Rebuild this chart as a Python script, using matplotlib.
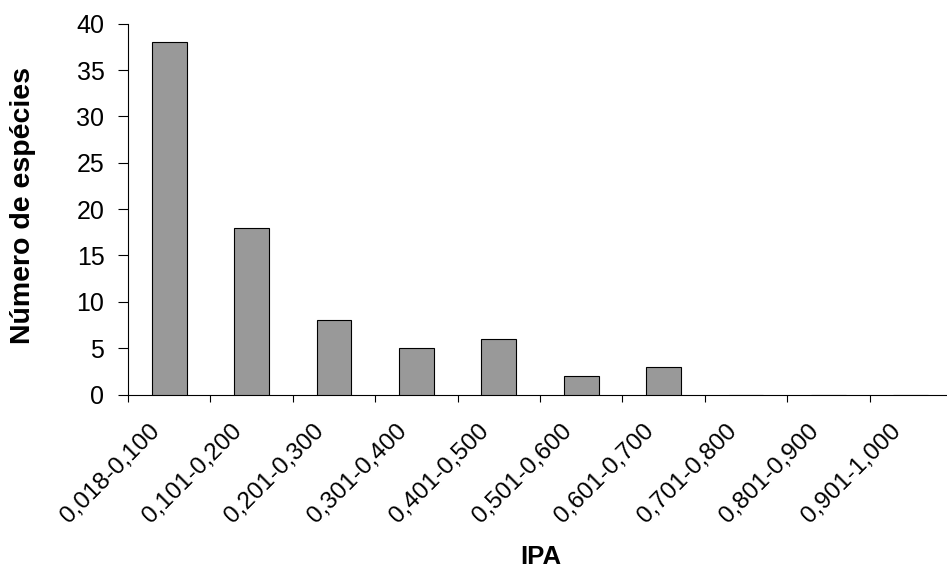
import matplotlib
matplotlib.use("Agg")
import matplotlib.pyplot as plt
from matplotlib.transforms import ScaledTranslation
import numpy as np

categories = ["0,018-0,100", "0,101-0,200", "0,201-0,300", "0,301-0,400", "0,401-0,500",
              "0,501-0,600", "0,601-0,700", "0,701-0,800", "0,801-0,900", "0,901-1,000"]
values = [38, 18, 8, 5, 6, 2, 3, 0, 0, 0]
y_ticks = [0, 5, 10, 15, 20, 25, 30, 35, 40]

plt.rcParams['font.family'] = ['Liberation Sans', 'DejaVu Sans']

fig = plt.figure(figsize=(9.47, 5.70), dpi=100)
ax = fig.add_axes([128/947, 1-394.5/570, 824/947, (394.5-23.7)/570])

x = np.arange(len(categories))
ax.bar(x, values, width=0.42, color='#999999', edgecolor='black', linewidth=0.8, zorder=3)

ax.set_xlim(-0.5, len(categories) - 0.5)
ax.set_ylim(0, 40)
ax.set_yticks(y_ticks)
ax.tick_params(axis='y', labelsize=18, length=7, width=0.8, direction='out', pad=10)

ax.set_xticks(x)
ax.set_xticklabels(categories, rotation=45, ha='right', va='center', rotation_mode='anchor', fontsize=17.5)
ax.tick_params(axis='x', which='major', length=0, pad=24)
ax.set_xticks(np.arange(-0.5, len(categories) - 0.5, 1), minor=True)
ax.tick_params(axis='x', which='minor', length=5, width=0.8, direction='out')
offset = ScaledTranslation(-13/100, 0, fig.dpi_scale_trans)
for lab in ax.get_xticklabels():
    lab.set_transform(lab.get_transform() + offset)

for s in ['top', 'right']:
    ax.spines[s].set_visible(False)
for s in ['left', 'bottom']:
    ax.spines[s].set_linewidth(0.8)

fig.text(23/947, 1-205/570, "Número de espécies", rotation=90, ha='center', va='center',
         fontsize=20.5, fontweight='bold')
fig.text(541/947, 1-557/570, "IPA", ha='center', va='center', fontsize=18.5, fontweight='bold')

fig.savefig("out.png", dpi=100)
